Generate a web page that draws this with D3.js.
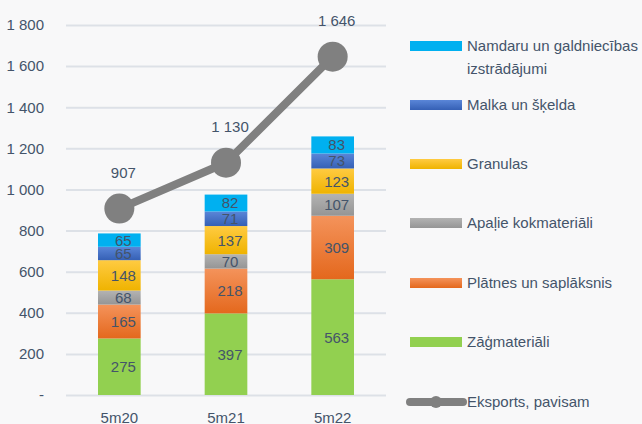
<!DOCTYPE html>
<html>
<head>
<meta charset="utf-8">
<script src="https://cdn.jsdelivr.net/npm/d3@7"></script>
<style>
  body { margin: 0; background: #f8f8f9; }
  svg { display: block; font-family: "Liberation Sans", Arial, sans-serif; }
</style>
</head>
<body>
<svg id="chart"></svg>
<script>
// data
const periods = ["5m20", "5m21", "5m22"];
const seriesNames = ["Zāģmateriāli", "Plātnes un saplāksnis", "Apaļie kokmateriāli", "Granulas", "Malka un šķelda", "Namdaru un galdniecības izstrādājumi"];
const zagmateriali = [275, 397, 563];
const platnes = [165, 218, 309];
const apalie = [68, 70, 107];
const granulas = [148, 137, 123];
const malka = [65, 71, 73];
const namdaru = [65, 82, 83];
const eksports = [907, 1130, 1646];
const yTicks = [0, 200, 400, 600, 800, 1000, 1200, 1400, 1600, 1800];

const width = 642, height = 424;
const marginLeft = 66, plotRight = 386, marginTop = 25, baseline = 395;
const textColor = "#44546a";

// colours: [top, bottom] of the vertical gradient
const fills = [
  ["#92d050", "#92d050"],
  ["#f4935b", "#e4681d"],
  ["#b3b3b3", "#959595"],
  ["#ffcb42", "#efb300"],
  ["#5a86d8", "#3560b5"],
  ["#00b0f0", "#00b0f0"]
];

const table = periods.map((p, i) => ({
  period: p,
  s0: zagmateriali[i], s1: platnes[i], s2: apalie[i],
  s3: granulas[i], s4: malka[i], s5: namdaru[i],
  total: eksports[i]
}));
const keys = ["s0", "s1", "s2", "s3", "s4", "s5"];

const series = d3.stack().keys(keys)(table);

const x = d3.scaleBand()
  .domain(periods)
  .range([marginLeft, plotRight])
  .paddingInner(0.6)
  .paddingOuter(0.3);

const y = d3.scaleLinear()
  .domain([0, 1800])
  .range([baseline, marginTop]);

const fmt = v => v === 0 ? "-" : d3.format(",")(v).replace(/,/g, " ");

const svg = d3.select("#chart")
  .attr("width", width)
  .attr("height", height)
  .attr("viewBox", [0, 0, width, height]);

const defs = svg.append("defs");
fills.forEach((c, i) => {
  const g = defs.append("linearGradient")
    .attr("id", "grad" + i)
    .attr("x1", 0).attr("y1", 0).attr("x2", 0).attr("y2", 1);
  g.append("stop").attr("offset", "0%").attr("stop-color", c[0]);
  g.append("stop").attr("offset", "100%").attr("stop-color", c[1]);
});

// grid lines + y labels
svg.append("g")
  .attr("transform", `translate(${marginLeft},0)`)
  .call(d3.axisLeft(y).tickValues(yTicks).tickFormat(fmt).tickSize(-(plotRight - marginLeft)).tickPadding(22))
  .call(g => g.select(".domain").remove())
  .call(g => g.selectAll(".tick line").attr("stroke", "#dde1e7").attr("stroke-width", 2))
  .call(g => g.selectAll(".tick text").attr("fill", textColor).attr("font-size", 15)
    .attr("font-family", "Liberation Sans, Arial, sans-serif"));

// x labels
svg.append("g")
  .attr("transform", `translate(0,${baseline})`)
  .call(d3.axisBottom(x).tickSize(0).tickPadding(17))
  .call(g => g.select(".domain").remove())
  .call(g => g.selectAll(".tick text").attr("fill", textColor).attr("font-size", 15)
    .attr("font-family", "Liberation Sans, Arial, sans-serif"));

// stacked bars
const layers = svg.append("g")
  .selectAll("g")
  .data(series)
  .join("g")
  .attr("fill", (d, i) => `url(#grad${i})`);

layers.selectAll("rect")
  .data(d => d)
  .join("rect")
  .attr("x", d => x(d.data.period))
  .attr("y", d => y(d[1]))
  .attr("width", x.bandwidth())
  .attr("height", d => y(d[0]) - y(d[1]));

layers.selectAll("text")
  .data(d => d)
  .join("text")
  .attr("x", d => x(d.data.period) + x.bandwidth() / 2 + 4)
  .attr("y", d => (y(d[0]) + y(d[1])) / 2)
  .attr("dy", "0.36em")
  .attr("text-anchor", "middle")
  .attr("fill", textColor)
  .attr("font-size", 15)
  .text(d => d[1] - d[0]);

// total line
const cx = d => x(d.period) + x.bandwidth() / 2;
svg.append("path")
  .datum(table)
  .attr("fill", "none")
  .attr("stroke", "#808080")
  .attr("stroke-width", 8)
  .attr("stroke-linejoin", "round")
  .attr("d", d3.line().x(cx).y(d => y(d.total)));

svg.append("g")
  .selectAll("circle")
  .data(table)
  .join("circle")
  .attr("cx", cx)
  .attr("cy", d => y(d.total))
  .attr("r", 15)
  .attr("fill", "#808080");

svg.append("g")
  .selectAll("text")
  .data(table)
  .join("text")
  .attr("x", d => cx(d) + 4)
  .attr("y", d => y(d.total) - 36)
  .attr("dy", "0.36em")
  .attr("text-anchor", "middle")
  .attr("fill", textColor)
  .attr("font-size", 15)
  .text(d => fmt(d.total));

// legend
const legendY = [46, 105, 164, 223, 283, 342];
const legendOrder = [5, 4, 3, 2, 1, 0];
const legend = svg.append("g");
legendOrder.forEach((si, j) => {
  const ly = legendY[j];
  legend.append("rect")
    .attr("x", 410).attr("y", ly - 5)
    .attr("width", 52).attr("height", 10)
    .attr("fill", `url(#grad${si})`);
  const t = legend.append("text")
    .attr("x", 467).attr("y", ly)
    .attr("dy", "0.36em")
    .attr("fill", textColor)
    .attr("font-size", 15);
  if (si === 5) {
    t.append("tspan").attr("x", 467).text("Namdaru un galdniecības");
    t.append("tspan").attr("x", 467).attr("dy", 23).text("izstrādājumi");
  } else {
    t.text(seriesNames[si]);
  }
});
legend.append("line")
  .attr("x1", 410).attr("x2", 463)
  .attr("y1", 402).attr("y2", 402)
  .attr("stroke", "#808080").attr("stroke-width", 8)
  .attr("stroke-linecap", "round");
legend.append("circle")
  .attr("cx", 436).attr("cy", 402).attr("r", 6)
  .attr("fill", "#808080");
legend.append("text")
  .attr("x", 467).attr("y", 402)
  .attr("dy", "0.36em")
  .attr("fill", textColor)
  .attr("font-size", 15)
  .text("Eksports, pavisam");
</script>
</body>
</html>
